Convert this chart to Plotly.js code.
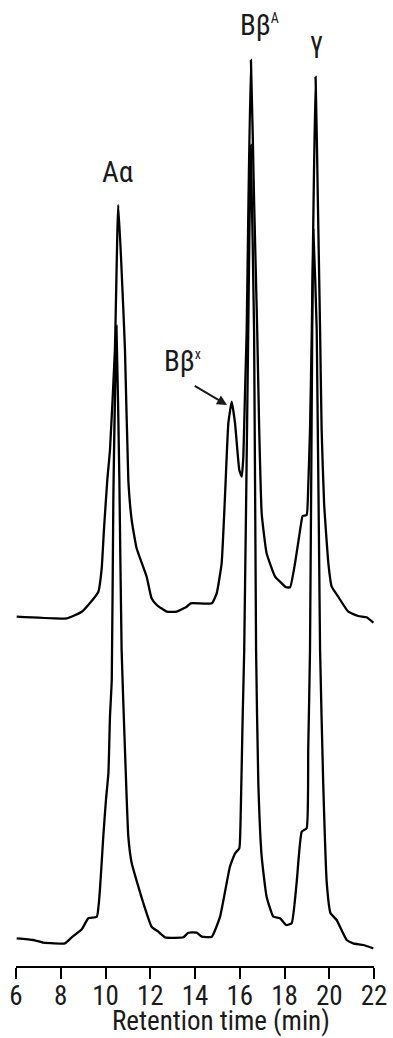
<!DOCTYPE html>
<html>
<head>
<meta charset="utf-8">
<script src="https://cdn.plot.ly/plotly-3.0.1.min.js"></script>
<style>
html,body{margin:0;padding:0;background:#fff;}
#chart{width:393px;height:1038px;}
</style>
</head>
<body>
<div id="chart"></div>
<script>
// Upper chromatogram (retention time, min / signal, offset units)
const upperTime = [6.03,8.27,8.94,9.23,9.68,9.83,9.93,10.08,10.20,10.42,10.57,10.87,11.02,11.17,11.39,11.84,12.06,12.29,12.74,13.18,13.63,13.81,14.75,14.97,15.19,15.34,15.49,15.64,15.79,15.98,16.09,16.16,16.23,16.31,16.39,16.50,16.64,16.78,16.87,16.98,17.20,17.58,17.80,18.07,18.25,18.47,18.72,18.81,18.99,19.06,19.14,19.22,19.30,19.39,19.49,19.59,19.66,19.77,19.96,20.11,20.40,20.85,21.30,21.67,21.97];
const upperSignal = [34.93,34.77,35.43,36.1,37.43,39.77,43.6,48.6,51.6,61.6,76.1,61.6,48.6,44.6,41.77,38.93,36.77,36.1,35.43,35.43,35.93,36.27,36.27,37.27,40.27,46.93,54.27,56.43,54.27,49.6,48.93,50.93,56.93,63.6,76.6,90.6,76.6,63.6,53.6,45.27,41.27,38.93,38.43,37.87,37.87,40.27,43.93,45.0,45.1,47.93,53.6,63.6,76.6,88.9,76.6,63.6,53.6,46.27,40.27,37.93,36.93,35.43,35.0,34.87,34.33];

// Lower chromatogram
const lowerTime = [6.03,6.77,7.22,8.19,8.49,8.94,9.23,9.61,9.75,9.90,10.02,10.13,10.20,10.28,10.35,10.49,10.62,10.72,10.87,11.02,11.17,11.69,12.06,12.36,12.66,13.48,13.70,14.08,14.30,14.75,15.12,15.56,15.79,15.98,16.04,16.13,16.20,16.38,16.49,16.64,16.73,16.83,16.98,17.20,17.50,17.80,18.07,18.32,18.54,18.77,18.99,19.06,19.14,19.24,19.29,19.44,19.59,19.73,19.89,20.06,20.33,20.78,21.07,21.52,21.97];
const lowerSignal = [2.77,2.6,2.33,2.27,2.87,3.67,4.77,4.93,7.6,12.93,16.6,19.3,24.93,28.6,46.6,64.0,48.6,31.6,21.6,12.93,10.3,6.3,3.93,3.43,2.87,2.87,3.33,3.33,2.93,2.93,4.93,9.93,11.27,11.77,14.93,24.93,31.6,63.6,82.1,63.6,31.6,18.3,10.93,6.93,4.93,4.77,4.1,4.27,8.27,13.43,13.77,21.6,31.6,63.6,73.6,63.6,31.6,18.3,8.27,5.27,4.6,2.6,2.27,2.1,1.77];

// Peak labels
const peakLabels = ["Aα", "Bβ<sup><span style=\"font-size:14px\">A</span></sup>", "γ", "Bβ<sup><span style=\"font-size:14px\">x</span></sup>"];
const peakLabelX = [10.54, 16.90, 19.43, 13.46];
const peakLabelY = [79.4, 94.1, 92.4, 60.5];
const arrowTail = [13.92, 58.1];
const arrowHead = [15.43, 56.1];

const tickVals = [6,8,10,12,14,16,18,20,22];
const xTitle = 'Retention time (min)';

const FONT = '"Roboto Condensed", "Liberation Sans Narrow", Roboto, sans-serif';
const INK = '#1a1a1a';

const lineStyle = {color: '#000', width: 2.3, shape: 'spline', smoothing: 0.4};

const traces = [
  {x: upperTime, y: upperSignal, mode: 'lines', line: lineStyle, hoverinfo: 'skip'},
  {x: lowerTime, y: lowerSignal, mode: 'lines', line: lineStyle, hoverinfo: 'skip'}
];

const annotations = peakLabels.map((t, i) => ({
  x: peakLabelX[i], y: peakLabelY[i], xref: 'x', yref: 'y',
  text: t, showarrow: false,
  font: {family: FONT, size: 29, color: INK}
}));
annotations.push({
  x: arrowHead[0], y: arrowHead[1], xref: 'x', yref: 'y',
  ax: arrowTail[0], ay: arrowTail[1], axref: 'x', ayref: 'y',
  text: '', showarrow: true, arrowhead: 2, arrowsize: 1, arrowwidth: 2, arrowcolor: INK
});
annotations.push({
  x: 0.574, y: -0.0755, xref: 'paper', yref: 'paper', xanchor: 'center', yanchor: 'bottom',
  text: xTitle, showarrow: false, borderpad: 0,
  font: {family: FONT, size: 27, color: INK}
});

const layout = {
  width: 393, height: 1038,
  margin: {l: 16, r: 19, t: 16, b: 72},
  paper_bgcolor: '#fff', plot_bgcolor: '#fff',
  showlegend: false,
  font: {family: FONT, color: INK},
  xaxis: {
    range: [6, 22], tickvals: tickVals, ticktext: tickVals.map(String),
    showline: true, linecolor: '#000', linewidth: 2,
    ticks: 'outside', ticklen: 11, tickwidth: 2, tickcolor: '#000',
    ticklabelstandoff: -6,
    tickfont: {family: FONT, size: 27, color: INK},
    showgrid: false, zeroline: false
  },
  yaxis: {range: [0, 95], visible: false, showgrid: false, zeroline: false},
  annotations: annotations
};

Plotly.newPlot('chart', traces, layout, {staticPlot: true, displayModeBar: false});
</script>
</body>
</html>
